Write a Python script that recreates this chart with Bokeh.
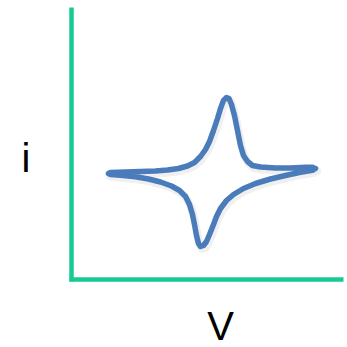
from bokeh.plotting import figure
from bokeh.models import Range1d, LinearAxis
from bokeh.core.properties import value
from bokeh.embed import file_html
from bokeh.resources import INLINE

# Schematic cyclic voltammogram (arbitrary units): potential V (right), current i (up)
V = [37, 39, 54, 69, 84, 96, 107, 116, 123, 129, 134, 138, 142, 146, 149, 152, 155,
     157.5, 160, 163, 166, 169, 172, 176, 181, 189, 204, 219, 234, 241, 244,
     241, 229, 214, 199, 184, 172, 162, 155, 149, 145, 142, 138, 135, 132, 129,
     127, 125, 123, 121, 118, 114, 108, 100, 89, 77, 64, 49, 39, 37]
I = [106, 107, 107.5, 108, 108.5, 109.5, 111, 113.5, 117, 123, 130, 138, 149, 161, 171, 179, 182,
     181, 175, 164, 149, 134, 124, 118, 114, 112.5, 111.5, 111.5, 112.2, 112.2, 111,
     109.2, 107.3, 104, 100.5, 96, 91, 85, 79, 71, 63, 55, 45, 38, 34, 33,
     36, 44, 55, 65, 75, 83, 89, 93.5, 97.5, 100.5, 102.7, 104.2, 105, 106]

# axis extents (same arbitrary units)
V_axis_bounds = (-2.2, 272)
I_axis_bounds = (-2.2, 272)

# axis titles and where they sit
label_text = ["i", "V"]
label_x = [-45.5, 149]
label_y = [122, -46.5]

CURVE = "#4A7CBC"
AXIS = "#16CA95"

p = figure(width=347, height=347, output_backend="svg", toolbar_location=None,
           x_range=Range1d(-71, 276), y_range=Range1d(-68, 279),
           x_axis_location=None, y_axis_location=None,
           min_border=0)
p.outline_line_color = None
p.grid.visible = False
p.background_fill_color = "white"
p.border_fill_color = "white"

xax = LinearAxis(fixed_location=0, bounds=V_axis_bounds)
yax = LinearAxis(fixed_location=0, bounds=I_axis_bounds)
for ax in (xax, yax):
    ax.axis_line_color = AXIS
    ax.axis_line_width = 4.5
    ax.major_tick_line_color = None
    ax.minor_tick_line_color = None
    ax.major_label_text_font_size = "0px"
    ax.major_label_text_color = None
p.add_layout(xax, "below")
p.add_layout(yax, "left")

# soft shadow of the curve (same data, slightly shifted ranges)
p.extra_x_ranges = {"sh": Range1d(-72.5, 274.5)}
p.extra_y_ranges = {"sh": Range1d(-65.5, 281.5)}
p.line(V, I, line_color="#888888", line_alpha=0.13, line_width=8,
       line_join="round", line_cap="round", x_range_name="sh", y_range_name="sh")

p.line(V, I, line_color=CURVE, line_width=5.5, line_join="round", line_cap="round")

p.text(x=label_x, y=label_y, text=label_text, text_font=value("Liberation Sans"),
       text_font_size="40px", text_align="center", text_baseline="alphabetic",
       text_color="black")

open("out.html", "w").write(file_html(p, INLINE))
